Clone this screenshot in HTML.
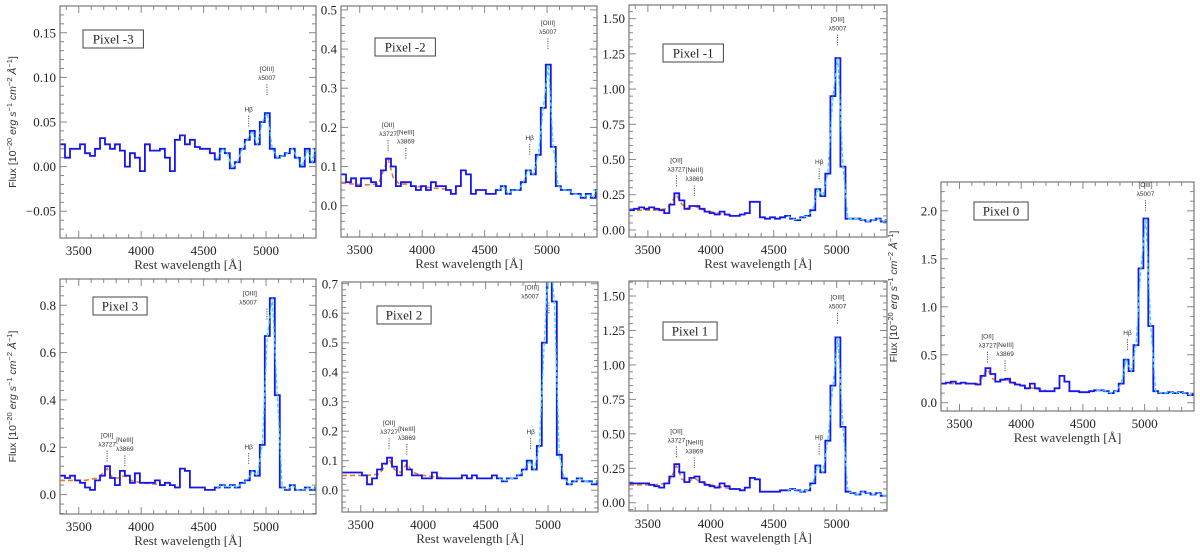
<!DOCTYPE html>
<html><head><meta charset="utf-8"><style>
html,body{margin:0;padding:0;background:#fff;width:1200px;height:552px;overflow:hidden}
svg{display:block}
</style></head><body>
<svg id="fig" width="1200" height="552" viewBox="0 0 1200 552" xmlns="http://www.w3.org/2000/svg"></svg>
<script>
// Bin starts: 3350 + 40*i (40 Å bins)
const binStart = 3350;
const binWidth = 40;
const fluxPm3 = [0.025,0.01,0.02,0.02,0.025,0.015,0.012,0.02,0.032,0.025,0.02,0.025,0.018,0.0,0.015,0.01,-0.005,0.025,0.018,0.018,0.02,0.01,-0.005,0.03,0.035,0.025,0.03,0.022,0.02,0.02,0.015,0.008,0.02,0.015,-0.002,0.005,0.02,0.03,0.04,0.025,0.05,0.06,0.02,0.01,0.012,0.015,0.02,0.01,0.0,0.02,0.005,0.02];
const fluxPm2 = [0.08,0.06,0.07,0.05,0.07,0.07,0.06,0.05,0.09,0.12,0.10,0.05,0.06,0.06,0.05,0.04,0.05,0.04,0.06,0.05,0.05,0.04,0.03,0.05,0.09,0.08,0.03,0.04,0.04,0.03,0.03,0.04,0.05,0.03,0.04,0.04,0.06,0.09,0.08,0.13,0.25,0.36,0.15,0.05,0.04,0.04,0.03,0.03,0.02,0.03,0.02,0.04];
const fluxPm1 = [0.14,0.15,0.16,0.15,0.16,0.15,0.14,0.12,0.18,0.26,0.21,0.15,0.17,0.17,0.15,0.13,0.12,0.11,0.13,0.11,0.10,0.10,0.11,0.12,0.20,0.20,0.09,0.08,0.09,0.08,0.09,0.10,0.08,0.07,0.09,0.10,0.14,0.29,0.24,0.40,0.95,1.22,0.45,0.08,0.08,0.08,0.07,0.06,0.07,0.08,0.06,0.07];
const fluxP0 = [0.20,0.21,0.22,0.20,0.21,0.20,0.20,0.19,0.28,0.36,0.30,0.22,0.24,0.25,0.21,0.19,0.18,0.15,0.20,0.15,0.12,0.12,0.12,0.15,0.28,0.22,0.12,0.12,0.11,0.11,0.12,0.13,0.13,0.12,0.10,0.12,0.20,0.45,0.33,0.60,1.40,1.92,0.80,0.12,0.10,0.10,0.11,0.10,0.11,0.10,0.08,0.09];
const fluxP3 = [0.08,0.07,0.08,0.06,0.05,0.03,0.02,0.06,0.08,0.12,0.07,0.04,0.10,0.08,0.05,0.09,0.05,0.05,0.05,0.06,0.04,0.05,0.04,0.03,0.11,0.10,0.03,0.03,0.03,0.02,0.02,0.03,0.04,0.03,0.04,0.03,0.05,0.06,0.10,0.08,0.21,0.67,0.83,0.42,0.03,0.02,0.04,0.02,0.02,0.03,0.02,0.03];
const fluxP2 = [0.06,0.06,0.06,0.06,0.05,0.02,0.04,0.07,0.09,0.11,0.08,0.05,0.10,0.07,0.05,0.05,0.04,0.04,0.06,0.04,0.04,0.04,0.04,0.04,0.05,0.04,0.05,0.04,0.04,0.04,0.05,0.04,0.03,0.04,0.04,0.05,0.07,0.10,0.07,0.15,0.50,0.85,0.64,0.12,0.04,0.02,0.03,0.04,0.03,0.03,0.02,0.03];
const fluxP1 = [0.14,0.14,0.14,0.14,0.13,0.12,0.11,0.14,0.19,0.28,0.22,0.15,0.18,0.19,0.15,0.13,0.12,0.11,0.14,0.12,0.10,0.10,0.09,0.11,0.18,0.17,0.08,0.08,0.08,0.08,0.09,0.09,0.10,0.09,0.08,0.09,0.14,0.27,0.22,0.45,0.85,1.20,0.55,0.08,0.07,0.06,0.08,0.07,0.06,0.07,0.05,0.05];
// Continuum+[OII]/[NeIII] fit (orange dashed), sampled at fitWave
const fitWave = [3350,3450,3550,3650,3690,3727,3770,3820,3869,3920,4000,4100,4200];
const fitPm2 = [0.058,0.055,0.053,0.055,0.09,0.12,0.07,0.055,0.055,0.05,0.048,0.045,0.042];
const fitPm1 = [0.14,0.14,0.14,0.15,0.20,0.25,0.18,0.15,0.17,0.15,0.13,0.11,0.10];
const fitP0 = [0.20,0.20,0.20,0.20,0.28,0.35,0.25,0.22,0.25,0.21,0.18,0.15,0.13];
const fitP3 = [0.06,0.06,0.06,0.07,0.09,0.11,0.07,0.07,0.08,0.06,0.05,0.045,0.04];
const fitP2 = [0.05,0.05,0.05,0.055,0.08,0.105,0.07,0.06,0.09,0.06,0.05,0.045,0.04];
const fitP1 = [0.13,0.13,0.13,0.14,0.19,0.27,0.17,0.15,0.18,0.15,0.13,0.11,0.10];

const NS='http://www.w3.org/2000/svg';
const svg=document.getElementById('fig');
function el(tag,attrs,parent){const e=document.createElementNS(NS,tag);for(const k in attrs)e.setAttribute(k,attrs[k]);(parent||svg).appendChild(e);return e;}

const panels=[
 {id:'pixel-m3',label:'Pixel -3',x0:60,x1:316,y0:6,y1:238,ymin:-0.08,ymax:0.18,major:[-0.05,0,0.05,0.10,0.15],fmt:2,minor:0.01,flux:fluxPm3,fit:null,ylab:true,box:[83,30],lines:{oiii:[0.08,'above'],hb:[0.045]}},
 {id:'pixel-m2',label:'Pixel -2',x0:341,x1:597,y0:6,y1:237,ymin:-0.08,ymax:0.51,major:[0,0.1,0.2,0.3,0.4,0.5],fmt:1,minor:0.02,flux:fluxPm2,fit:fitPm2,ylab:false,box:[375,38],lines:{oii:0.14,neiii:0.12,hb:[0.13],oiii:[0.40]}},
 {id:'pixel-m1',label:'Pixel -1',x0:629,x1:887,y0:5,y1:237,ymin:-0.05,ymax:1.597,major:[0,0.25,0.5,0.75,1.0,1.25,1.5],fmt:2,minor:0.05,flux:fluxPm1,fit:fitPm1,ylab:false,box:[663,44],lines:{oii:0.31,neiii:0.24,hb:[0.36],oiii:[1.31]}},
 {id:'pixel-3',label:'Pixel 3',x0:60,x1:316,y0:279,y1:514,ymin:-0.082,ymax:0.911,major:[0,0.2,0.4,0.6,0.8],fmt:1,minor:0.04,flux:fluxP3,fit:fitP3,ylab:true,box:[93,297],lines:{oii:0.14,neiii:0.12,hb:[0.13],oiii:[0.74,'left']}},
 {id:'pixel-2',label:'Pixel 2',x0:342,x1:598,y0:282,y1:512,ymin:-0.074,ymax:0.706,major:[0,0.1,0.2,0.3,0.4,0.5,0.6,0.7],fmt:1,minor:0.02,flux:fluxP2,fit:fitP2,ylab:false,box:[377,306],lines:{oii:0.14,neiii:0.12,hb:[0.14],oiii:[0.60,'left']}},
 {id:'pixel-1',label:'Pixel 1',x0:629,x1:887,y0:281,y1:511,ymin:-0.06,ymax:1.609,major:[0,0.25,0.5,0.75,1.0,1.25,1.5],fmt:2,minor:0.05,flux:fluxP1,fit:fitP1,ylab:false,box:[663,322],lines:{oii:0.33,neiii:0.25,hb:[0.35],oiii:[1.30]}},
 {id:'pixel-0',label:'Pixel 0',x0:941,x1:1194,y0:182,y1:411,ymin:-0.086,ymax:2.3,major:[0,0.5,1.0,1.5,2.0],fmt:1,minor:0.1,flux:fluxP0,fit:fitP0,ylab:true,box:[974,202],lines:{oii:0.42,neiii:0.33,hb:[0.55],oiii:[2.0]}}
];

let clipN=0;
panels.forEach(p=>{
 const g=el('g',{});
 
 
 const X=w=>p.x0+(w-3350)/(5400-3350)*(p.x1-p.x0);
 const Y=v=>p.y1-(v-p.ymin)/(p.ymax-p.ymin)*(p.y1-p.y0);
 const cid='clip'+(clipN++);
 const cp=el('clipPath',{id:cid},g);
 el('rect',{x:p.x0,y:p.y0,width:p.x1-p.x0,height:p.y1-p.y0},cp);
 const tk=el('g',{stroke:'#888','stroke-width':1},g);
 
 
 for(let w=3400;w<=5400;w+=100){const x=X(w);const L=(w%500===0)?7:4;
  el('line',{x1:x,x2:x,y1:p.y1,y2:p.y1-L},tk);el('line',{x1:x,x2:x,y1:p.y0,y2:p.y0+L},tk);}
 const mstart=Math.ceil(p.ymin/p.minor-1e-6);
 for(let k=mstart;k*p.minor<=p.ymax+1e-9;k++){const v=k*p.minor;const y=Y(v);
  const isMaj=p.major.some(m=>Math.abs(m-v)<1e-6);const L=isMaj?7:4;
  el('line',{x1:p.x0,x2:p.x0+L,y1:y,y2:y},tk);el('line',{x1:p.x1,x2:p.x1-L,y1:y,y2:y},tk);}
 [3500,4000,4500,5000].forEach(w=>{const t=el('text',{x:X(w),y:p.y1+17,'text-anchor':'middle','font-family':'Liberation Serif, serif','font-size':13,fill:'#222'},g);t.textContent=w;
  });
 p.major.forEach(v=>{const t=el('text',{x:p.x0-4,y:Y(v)+4.5,'text-anchor':'end','font-family':'Liberation Serif, serif','font-size':13,fill:'#222'},g);
  t.textContent=(v<0?'\u2212':'')+Math.abs(v).toFixed(p.fmt);
  });
 const xt=el('text',{x:(p.x0+p.x1)/2,y:p.y1+31,'text-anchor':'middle','font-family':'Liberation Serif, serif','font-size':13,fill:'#333'},g);
 xt.textContent='Rest wavelength [\u00c5]';
 
 if(p.ylab){const cx=p.x0-44,cy=(p.y0+p.y1)/2;
  const yt=el('text',{x:cx,y:cy,'text-anchor':'middle','font-family':'Liberation Sans, sans-serif','font-size':10.5,fill:'#333',transform:`rotate(-90 ${cx} ${cy})`},g);
  yt.innerHTML='Flux [10<tspan dy="-4" font-size="7.5">\u221220</tspan><tspan dy="4" font-style="italic"> erg s</tspan><tspan dy="-4" font-size="7.5">\u22121</tspan><tspan dy="4" font-style="italic"> cm</tspan><tspan dy="-4" font-size="7.5">\u22122</tspan><tspan dy="4" font-style="italic"> \u00c5</tspan><tspan dy="-4" font-size="7.5">\u22121</tspan><tspan dy="4">]</tspan>';
  }
 const sg=el('g',{'clip-path':`url(#${cid})`},g);
 if(p.fit){let d='';p.fit.forEach((v,i)=>{d+=(i?'L':'M')+X(fitWave[i]).toFixed(1)+','+Y(v).toFixed(1);});
  const f=el('path',{d,fill:'none',stroke:'#f07828','stroke-width':1.6,'stroke-dasharray':'5 3'},sg);
  }
 let d='',dc='';
 p.flux.forEach((v,i)=>{const xa=X(binStart+binWidth*i),xb=X(Math.min(5400,binStart+binWidth*(i+1)));const y=Y(v).toFixed(1);
  d+=(i?'L':'M')+xa.toFixed(1)+','+y+'L'+xb.toFixed(1)+','+y;
  if(binStart+binWidth*i>=4580){dc+=(dc?'L':'M')+((xa+xb)/2).toFixed(1)+','+y;}});
 const s=el('path',{d,fill:'none',stroke:'#1515f0','stroke-width':1.8},sg);
 
 const c=el('path',{d:dc,fill:'none',stroke:'#38d8f0','stroke-width':1.3,'stroke-dasharray':'4 2'},sg);
 
 const fr=el('rect',{x:p.x0,y:p.y0,width:p.x1-p.x0,height:p.y1-p.y0,fill:'none',stroke:'#777','stroke-width':1.2},g);
 
 const ann=(w,v,l1,l2,side)=>{const x=X(w),y=Y(v);
  el('line',{x1:x,x2:x,y1:y,y2:y-11,stroke:'#555','stroke-width':1,'stroke-dasharray':'1.2 1.2'},g);
  const tx=side==='left'?x-10:x;const anchor=side==='left'?'end':'middle';
  const a=el('text',{x:tx,y:y-(l2?24:15),'text-anchor':anchor,'font-family':'Liberation Sans, sans-serif','font-size':6.5,fill:'#333'},g);a.textContent=l1;
  
  if(l2){const b=el('text',{x:tx,y:y-15,'text-anchor':anchor,'font-family':'Liberation Sans, sans-serif','font-size':6.5,fill:'#333'},g);b.textContent=l2;
   }};
 const L=p.lines;
 if(L.oii!==undefined)ann(3727,L.oii,'[OII]','\u03bb3727');
 if(L.neiii!==undefined)ann(3869,L.neiii,'[NeIII]','\u03bb3869');
 if(L.hb)ann(4861,L.hb[0],'H\u03b2',null);
 if(L.oiii)ann(5007,L.oiii[0],'[OIII]','\u03bb5007',L.oiii[1]);
 const bw=p.label.length*6.3+10;
 const br=el('rect',{x:p.box[0],y:p.box[1],width:bw,height:18,fill:'#fff',stroke:'#444','stroke-width':1},g);
 
 const bt=el('text',{x:p.box[0]+bw/2,y:p.box[1]+13.5,'text-anchor':'middle','font-family':'Liberation Serif, serif','font-size':13,fill:'#222'},g);
 bt.textContent=p.label;
});
</script>
</body></html>
